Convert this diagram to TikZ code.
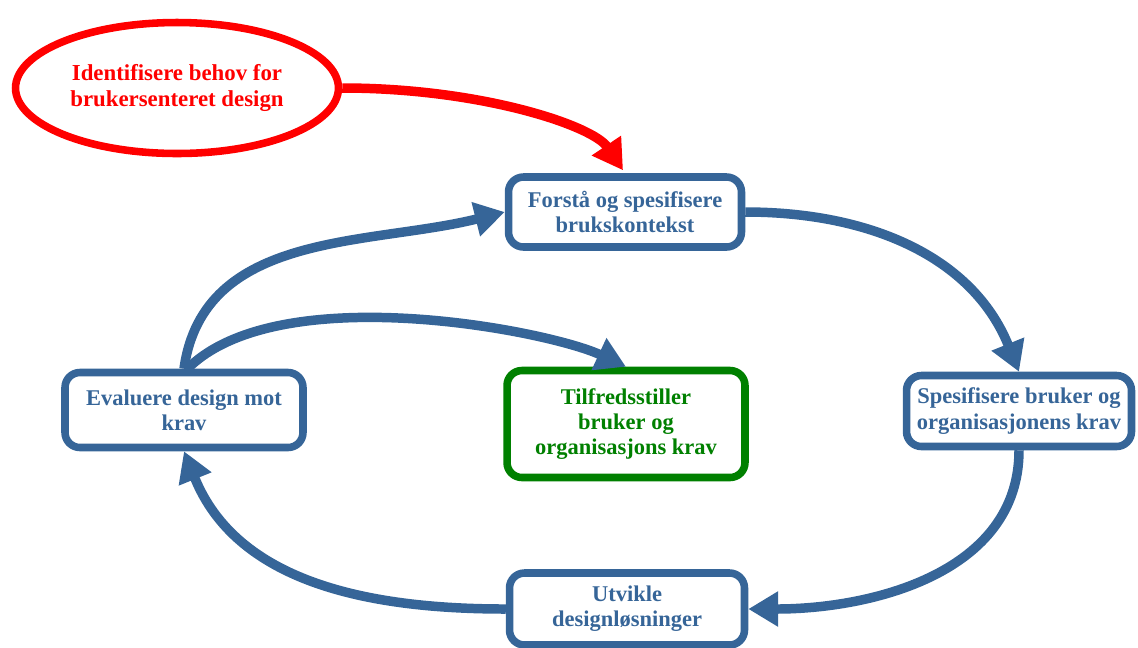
\documentclass[tikz,border=0pt]{standalone}
\usepackage{fontspec}
\setmainfont{Liberation Serif}
\usetikzlibrary{arrows.meta,shapes.geometric}

\definecolor{stegblaa}{RGB}{54,101,152}
\definecolor{maalgroenn}{RGB}{0,128,0}

\begin{document}
\begin{tikzpicture}[x=0.02cm,y=-0.02cm,
	steg/.style={draw=stegblaa,line width=4.3pt,rounded corners=8.5pt,fill=white,text=stegblaa,align=center,inner sep=0pt,font=\bfseries\fontsize{12.8}{14.4}\selectfont},
	pil/.style={draw=stegblaa,line width=5.4pt,-{Triangle[length=17pt,width=19pt]}},
	]
			\useasboundingbox (0,0) rectangle (1138,647);

			\node[ellipse,draw=red,line width=4.3pt,fill=white,text=red,align=center,inner sep=0pt,font=\bfseries\fontsize{13}{15.3}\selectfont,minimum width=6.46cm,minimum height=2.62cm] (behov) at (177,88) {Identifisere behov for\\brukersenteret design};

			\node[steg,minimum width=4.66cm,minimum height=1.4cm] (forsta) at (625,212) {Forstå og spesifisere\\brukskontekst};
			\node[steg,minimum width=4.5cm,minimum height=1.42cm] (spes) at (1019,411) {Spesifisere bruker og\\organisasjonens krav};
			\node[steg,minimum width=4.7cm,minimum height=1.44cm] (utvikle) at (627,609) {Utvikle\\designløsninger};
			\node[steg,minimum width=4.76cm,minimum height=1.5cm] (eval) at (184,410) {Evaluere design mot\\krav};
			\node[steg,draw=maalgroenn,text=maalgroenn,minimum width=4.76cm,minimum height=2.14cm] (maal) at (626,424) {Tilfredsstiller\\bruker og\\organisasjons krav};

			\draw[pil,draw=red,shorten >=2pt] (behov.east) to[out=0,in=124,out looseness=1.2,in looseness=0.5] (forsta.north);
			\draw[pil] (forsta.east) to[out=0,in=112] (spes.north);
			\draw[pil] (spes.south) to[out=-90,in=0] (utvikle.east);
			\draw[pil] (utvikle.west) to[out=180,in=-68] (eval.south);
			\draw[pil] (eval.north) to[out=82,in=194] (forsta.west);
			\draw[pil] ([xshift=2pt]eval.north) to[out=45,in=155,out looseness=0.75,in looseness=0.5] (maal.north);
\end{tikzpicture}
\end{document}
